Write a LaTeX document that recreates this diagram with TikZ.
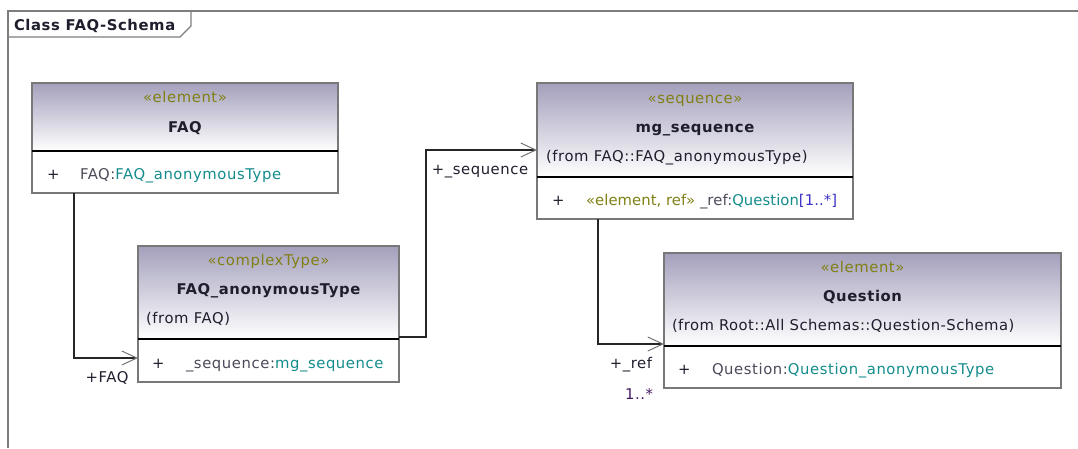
\documentclass[tikz,border=0pt]{standalone}
\usepackage{fontspec}
\setmainfont{DejaVu Sans}[LetterSpace=4]
\usetikzlibrary{arrows.meta,calc}
\definecolor{hdtop}{RGB}{164,160,188}
\definecolor{boxgray}{RGB}{120,120,120}
\definecolor{framegray}{RGB}{125,125,125}
\definecolor{olive}{RGB}{128,128,20}
\definecolor{tealtype}{RGB}{20,140,140}
\definecolor{darktext}{RGB}{30,30,45}
\definecolor{namepart}{RGB}{75,75,90}
\definecolor{multblue}{RGB}{60,50,200}
\definecolor{multpurple}{RGB}{70,25,95}
\begin{document}
\begin{tikzpicture}[x=1pt,y=-1pt,
  every node/.style={inner sep=0pt, outer sep=0pt},
  txt/.style={font=\fontsize{14.8}{17}\selectfont, text=darktext},
  ster/.style={txt, text=olive, anchor=base},
  cname/.style={txt, font=\fontsize{14.8}{17}\selectfont\bfseries, anchor=base},
  origin/.style={txt, anchor=base west},
  attr/.style={txt, anchor=base west},
  hdr/.style={draw=boxgray, line width=1.3pt, top color=hdtop, bottom color=white,
    anchor=north west},
  cmp/.style={draw=boxgray, line width=1.3pt, fill=white, anchor=north west},
  divider/.style={line width=1.3pt, black},
  frame/.style={draw=framegray, line width=1.2pt},
  conn/.style={line width=1.4pt, draw=black!85,
    -{Straight Barb[length=15pt,width=14pt,line width=1pt,color=black!55]}},
  role/.style={txt, anchor=base}]
\useasboundingbox (0,0) rectangle (1078,448);

% diagram frame and its name tab
\draw[frame] (1078,11) -- (8,11) -- (8,448);
\draw[frame] (8,37) -- (180,37) -- (191,26) -- (191,11);
\node[txt, font=\fontsize{14.8}{17}\selectfont\bfseries, anchor=base west] (title) at (14,30) {Class FAQ-Schema};

% FAQ
\node[hdr, minimum width=306pt, minimum height=68pt] (faqH) at (32,83) {};
\node[cmp, minimum width=306pt, minimum height=42pt] (faqA) at (faqH.south west) {};
\draw[divider] (faqH.south west) -- (faqH.south east);
\node[ster] (faqS) at (185,102) {«element»};
\node[cname] (faqN) at (185,132) {FAQ};
\node[attr] (faqP) at (47,179) {+};
\node[attr] (faqT) at (80,179) {\textcolor{namepart}{FAQ:}\textcolor{tealtype}{FAQ\_anonymousType}};

% FAQ_anonymousType
\node[hdr, minimum width=261pt, minimum height=93pt] (anonH) at (138,246) {};
\node[cmp, minimum width=261pt, minimum height=43pt] (anonA) at (anonH.south west) {};
\draw[divider] (anonH.south west) -- (anonH.south east);
\node[ster] (anonS) at (268.5,265) {«complexType»};
\node[cname] (anonN) at (268.5,294) {FAQ\_anonymousType};
\node[origin] (anonF) at (146,323) {(from FAQ)};
\node[attr] (anonP) at (152,368) {+};
\node[attr] (anonT) at (186,368) {\textcolor{namepart}{\_sequence:}\textcolor{tealtype}{mg\_sequence}};

% mg_sequence
\node[hdr, minimum width=316pt, minimum height=94pt] (mgH) at (537,83) {};
\node[cmp, minimum width=316pt, minimum height=42pt] (mgA) at (mgH.south west) {};
\draw[divider] (mgH.south west) -- (mgH.south east);
\node[ster] (mgS) at (695,103) {«sequence»};
\node[cname] (mgN) at (695,132) {mg\_sequence};
\node[origin] (mgF) at (546,161) {(from FAQ::FAQ\_anonymousType)};
\node[attr] (mgP) at (552,205) {+};
\node[attr] (mgT) at (586,205) {\addfontfeature{LetterSpace=0.5}\textcolor{olive}{«element, ref»} \textcolor{namepart}{\_ref:}\textcolor{tealtype}{Question}\textcolor{multblue}{[1..*]}};

% Question
\node[hdr, minimum width=397pt, minimum height=93pt] (qH) at (664,253) {};
\node[cmp, minimum width=397pt, minimum height=42pt] (qA) at (qH.south west) {};
\draw[divider] (qH.south west) -- (qH.south east);
\node[ster] (qS) at (862.5,272) {«element»};
\node[cname] (qN) at (862.5,301) {Question};
\node[origin] (qF) at (672,330) {\addfontfeature{LetterSpace=3}(from Root::All Schemas::Question-Schema)};
\node[attr] (qP) at (678,374) {+};
\node[attr] (qT) at (712,374) {\textcolor{namepart}{Question:}\textcolor{tealtype}{Question\_anonymousType}};

% associations
\draw[conn] ($(faqA.south west)+(42,0)$) |- ($(anonA.north west)+(0,19)$);
\draw[conn] ($(anonH.south east)+(0,-2)$) -- ++(27,0) |- ($(mgH.south west)+(0,-27)$);
\draw[conn] ($(mgA.south west)+(61,0)$) |- ($(qH.south west)+(0,-2)$);

% role names and multiplicity
\node[role] (rFAQ) at (107,382) {+FAQ};
\node[role] (rSeq) at (480,174) {+\_sequence};
\node[role, anchor=base east] (rRef) at (652,368) {+\_ref};
\node[role, anchor=base east, text=multpurple] (rMult) at (653,399) {1..*};
\end{tikzpicture}
\end{document}
